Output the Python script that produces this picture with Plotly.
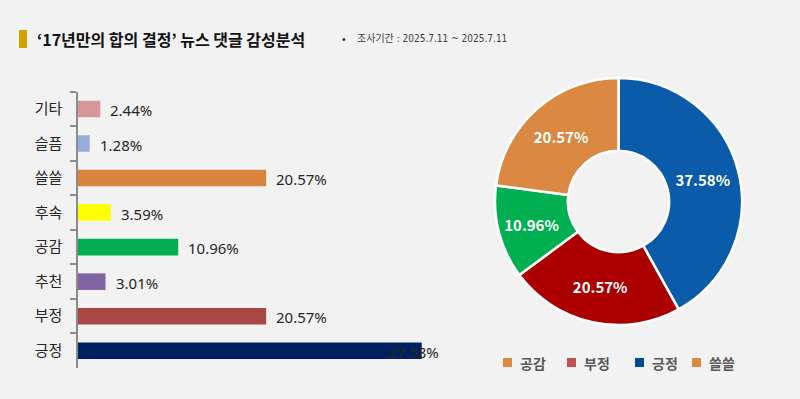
import plotly.graph_objects as go

# ---- data ----
bar_categories = ["기타", "슬픔", "쓸쓸", "후속", "공감", "추천", "부정", "긍정"]
bar_values = [2.44, 1.28, 20.57, 3.59, 10.96, 3.01, 20.57, 37.58]
bar_colors = ["#D59797", "#95ADD7", "#D9843D", "#FFFF00", "#00B050", "#8064A2", "#A94745", "#002060"]

pie_labels = ["긍정", "부정", "공감", "쓸쓸"]
pie_values = [37.58, 20.57, 10.96, 20.57]
pie_colors = ["#0A5BAA", "#AC0000", "#00B050", "#DA8842"]

legend_labels = ["공감", "부정", "긍정", "쓸쓸"]
legend_colors = ["#DA8842", "#C0504D", "#004A98", "#DA8842"]

title_text = "‘17년만의 합의 결정’ 뉴스 댓글 감성분석"
subtitle_text = "조사기간 : 2025.7.11 ~ 2025.7.11"

W, H = 800, 399
KR = "Noto Sans CJK KR"
NARROW = "DejaVu Sans Condensed, Noto Sans CJK KR"

fig = go.Figure()

fig.add_trace(go.Bar(
    x=bar_values, y=bar_categories, orientation="h",
    marker=dict(color=bar_colors, line=dict(width=0)),
    xaxis="x", yaxis="y", showlegend=False, hoverinfo="skip",
))

fig.add_trace(go.Pie(
    labels=pie_labels, values=pie_values,
    text=[f"{v:.2f}%" for v in pie_values], textinfo="text",
    textposition="inside", insidetextorientation="horizontal",
    textfont=dict(family=KR, size=15, color="white", weight="bold"),
    marker=dict(colors=pie_colors, line=dict(color="white", width=2.5)),
    hole=0.41, sort=False, direction="clockwise", rotation=0,
    domain=dict(x=[495 / W, 742 / W], y=[(H - 325) / H, (H - 78) / H]),
    showlegend=False, hoverinfo="skip",
))

annotations = []
for cat, val in zip(bar_categories, bar_values):
    annotations.append(dict(
        x=val, y=cat, xref="x", yref="y", text=f"{val:.2f}%",
        showarrow=False, xanchor="left", yanchor="middle",
        xshift=(-36 if cat == "긍정" else 8), yshift=-1,
        font=dict(family="Noto Sans", size=15, color="#262626"),
    ))

# title
annotations.append(dict(
    x=35 / W, y=(H - 39) / H, xref="paper", yref="paper", text=title_text,
    showarrow=False, xanchor="left", yanchor="middle",
    font=dict(family=KR, size=16, color="#111111", weight="bold"),
))
annotations.append(dict(
    x=340 / W, y=(H - 38) / H, xref="paper", yref="paper", text="•",
    showarrow=False, xanchor="left", yanchor="middle",
    font=dict(family=KR, size=11, color="#333333"),
))
annotations.append(dict(
    x=355 / W, y=(H - 38) / H, xref="paper", yref="paper", text=subtitle_text,
    showarrow=False, xanchor="left", yanchor="middle",
    font=dict(family=NARROW, size=10, color="#404040"),
))

shapes = [dict(type="rect", xref="paper", yref="paper",
               x0=19 / W, x1=27 / W, y0=(H - 48) / H, y1=(H - 30) / H,
               fillcolor="#D4A000", line=dict(width=0))]

legend_x = [503, 567, 635, 692]
for lx, lab, col in zip(legend_x, legend_labels, legend_colors):
    shapes.append(dict(type="rect", xref="paper", yref="paper",
                       x0=lx / W, x1=(lx + 9) / W, y0=(H - 367) / H, y1=(H - 358) / H,
                       fillcolor=col, line=dict(width=0)))
    annotations.append(dict(
        x=(lx + 15) / W, y=(H - 362.5) / H, xref="paper", yref="paper", text=lab,
        showarrow=False, xanchor="left", yanchor="middle",
        font=dict(family=KR, size=14, color="#595959", weight="bold"),
    ))

fig.update_layout(
    width=W, height=H,
    margin=dict(l=0, r=0, t=0, b=0),
    paper_bgcolor="#F2F2F2", plot_bgcolor="rgba(0,0,0,0)",
    bargap=0.52,
    xaxis=dict(domain=[78 / W, 450 / W], range=[0, 40.67], visible=False, fixedrange=True),
    yaxis=dict(domain=[(H - 368) / H, (H - 91.7) / H], autorange="reversed",
               showline=True, linecolor="#8C8C8C", linewidth=1.5,
               ticks="outside", ticklen=6, tickcolor="#8C8C8C", tickwidth=1.5,
               tickson="boundaries", ticklabelstandoff=11,
               tickfont=dict(family=KR, size=15, color="#262626"),
               showgrid=False, zeroline=False, fixedrange=True),
    annotations=annotations, shapes=shapes,
)

fig.write_html("out.html", config={"displayModeBar": False},
               post_script="document.body.style.margin='0';document.body.style.overflow='hidden';")
